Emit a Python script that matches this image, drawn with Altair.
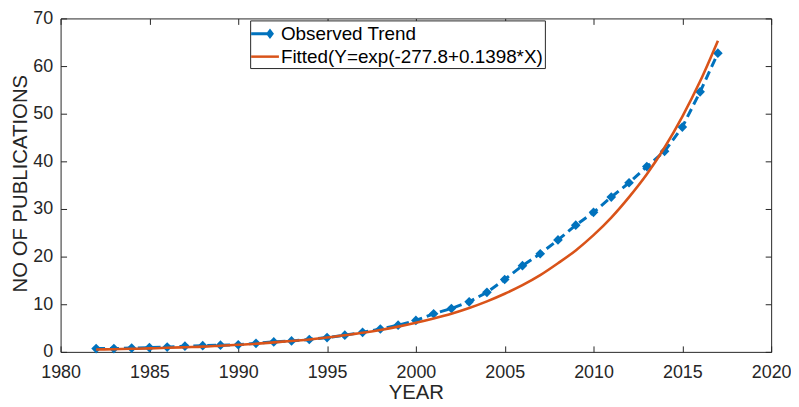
import altair as alt
import pandas as pd

years = list(range(1982, 2018))
observed = [0.7, 0.7, 0.8, 0.9, 1.0, 1.2, 1.3, 1.4, 1.5, 1.8,
            2.1, 2.3, 2.6, 3.0, 3.5, 4.1, 4.8, 5.6, 6.6, 8.0,
            9.1, 10.5, 12.5, 15.2, 18.1, 20.6, 23.5, 26.6, 29.3, 32.5,
            35.5, 38.9, 42.1, 47.2, 54.6, 62.7]
fitted = [0.49, 0.56, 0.64, 0.74, 0.85, 0.98, 1.1, 1.3, 1.5, 1.7,
          2.0, 2.3, 2.6, 3.0, 3.5, 4.0, 4.6, 5.3, 6.1, 7.0,
          8.0, 9.2, 10.6, 12.2, 14.0, 16.1, 18.6, 21.3, 24.5, 28.2,
          32.5, 37.3, 42.9, 49.4, 56.8, 65.3]
series_names = ["Observed Trend", "Fitted(Y=exp(-277.8+0.1398*X)"]
x_ticks = [1980, 1985, 1990, 1995, 2000, 2005, 2010, 2015, 2020]
y_ticks = [0, 10, 20, 30, 40, 50, 60, 70]

BLUE = "#0072BD"
ORANGE = "#D95319"
INK = "#262626"
FONT = "Liberation Sans"

df = pd.DataFrame({"year": years, "observed": observed, "fitted": fitted})

xs = alt.Scale(domain=[1980, 2020], nice=False, zero=False)
ys = alt.Scale(domain=[0, 70], nice=False)

lab_common = dict(labelFont=FONT, labelFontSize=18, labelColor=INK,
                  ticks=False, tickSize=0, domain=False, grid=False,
                  labelFlush=False, labelOverlap=False)
tick_common = dict(labels=False, ticks=True, tickSize=6, tickColor=INK,
                   tickWidth=1, domain=False, grid=False, title=None,
                   offset=-6)

x_lab = alt.Axis(orient="bottom", values=x_ticks, format="d", labelPadding=12,
                 title="YEAR", titleFont=FONT, titleFontSize=20.5,
                 titleFontWeight="normal", titleColor=INK, titleY=47,
                 titleBaseline="alphabetic", **lab_common)
y_lab = alt.Axis(orient="left", values=y_ticks, labelPadding=8,
                 title="NO OF PUBLICATIONS", titleFont=FONT, titleFontSize=20.5,
                 titleFontWeight="normal", titleColor=INK, titleX=-34,
                 titleY=166, titleAngle=270, titleBaseline="alphabetic",
                 **lab_common)
x_bot = alt.Axis(orient="bottom", values=x_ticks, **tick_common)
y_left = alt.Axis(orient="left", values=y_ticks, **tick_common)
x_top = alt.Axis(orient="top", values=x_ticks, **tick_common)
y_right = alt.Axis(orient="right", values=y_ticks, **tick_common)

base = alt.Chart(df)

obs_line = base.mark_line(color=BLUE, strokeWidth=3, strokeDash=[9, 5]).encode(
    x=alt.X("year:Q", scale=xs, axis=x_lab),
    y=alt.Y("observed:Q", scale=ys, axis=y_lab),
)
obs_pts = base.mark_point(shape="diamond", filled=True, size=95, color=BLUE,
                          opacity=1).encode(
    x=alt.X("year:Q", scale=xs, axis=x_top),
    y=alt.Y("observed:Q", scale=ys, axis=y_right),
)
fit_line = base.mark_line(color=ORANGE, strokeWidth=2.6,
                          interpolate="monotone").encode(
    x=alt.X("year:Q", scale=xs, axis=x_bot),
    y=alt.Y("fitted:Q", scale=ys, axis=y_left),
)

obs_sym = ("M-1,-0.12L0.3,-0.12L0.3,0.12L-1,0.12Z "
           "M0.2,0L0.52,-0.42L0.84,0L0.52,0.42Z")
fit_sym = "M-1,-0.1L1.24,-0.1L1.24,0.1L-1,0.1Z"

leg = alt.Legend(title=None, orient="none", legendX=191, legendY=2)

legend_layer = base.transform_calculate(
    series="'" + series_names[0] + "'"
).transform_filter("false").mark_point(filled=True, opacity=1).encode(
    color=alt.Color("series:N",
                    scale=alt.Scale(domain=series_names, range=[BLUE, ORANGE]),
                    legend=leg),
    shape=alt.Shape("series:N",
                    scale=alt.Scale(domain=series_names, range=[obs_sym, fit_sym]),
                    legend=leg),
)

chart = alt.layer(obs_line, obs_pts, fit_line, legend_layer).resolve_axis(
    x="independent", y="independent"
).properties(
    width=716, height=336,
    padding={"left": 53, "top": 9, "right": 20, "bottom": 50},
    autosize=alt.AutoSizeParams(type="none"),
).configure_view(
    stroke=INK, strokeWidth=1
).configure_legend(
    strokeColor=INK, fillColor="white", padding=1, cornerRadius=0,
    labelFont=FONT, labelFontSize=19, labelColor="black", labelLimit=500,
    symbolSize=625, symbolStrokeWidth=0, symbolOpacity=1,
    rowPadding=0, labelOffset=5,
)

chart.save("out.html", embed_options={"renderer": "svg", "actions": False})
